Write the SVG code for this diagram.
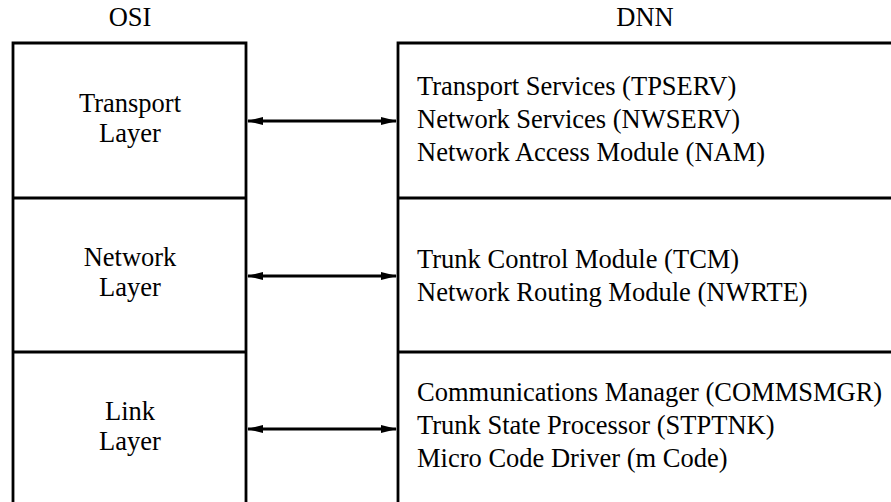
<svg xmlns="http://www.w3.org/2000/svg" width="891" height="502" viewBox="0 0 891 502">
  <style>
    .t { font-family: "Liberation Serif", "Times New Roman", serif; font-size: 26.5px; fill: #000; }
    .c { text-anchor: middle; }
    .box { fill: none; stroke: #000; stroke-width: 2.8; }
    .conn { stroke: #000; stroke-width: 2.8; fill: none; marker-start: url(#ah); marker-end: url(#ah); }
  </style>
  <defs>
    <!-- solid triangular head, reused at both ends of each two-way link -->
    <marker id="ah" viewBox="0 0 16 10" refX="15" refY="5" markerWidth="16" markerHeight="10" markerUnits="userSpaceOnUse" orient="auto-start-reverse">
      <path d="M0,1 L16,5 L0,9 Z" fill="#000"/>
    </marker>
  </defs>
  <rect width="891" height="502" fill="#fff"/>

  <text class="t c" x="130" y="26">OSI</text>
  <text class="t c" x="645" y="26">DNN</text>

  <!-- OSI column, split into three layers -->
  <g id="osi">
    <path class="box" d="M13,510 V43 H246 V510"/>
    <path class="box" d="M13,198 H246 M13,352 H246"/>
  </g>
  <!-- DNN column, running off the right edge -->
  <g id="dnn">
    <path class="box" d="M398,510 V43 H900"/>
    <path class="box" d="M398,198 H900 M398,352 H900"/>
  </g>

  <g id="osi-transport">
    <text class="t c" x="130" y="112">Transport</text>
    <text class="t c" x="130" y="142">Layer</text>
  </g>
  <g id="osi-network">
    <text class="t c" x="130" y="266">Network</text>
    <text class="t c" x="130" y="296">Layer</text>
  </g>
  <g id="osi-link">
    <text class="t c" x="130" y="420">Link</text>
    <text class="t c" x="130" y="450">Layer</text>
  </g>

  <g id="dnn-transport">
    <text class="t" x="417" y="95">Transport Services (TPSERV)</text>
    <text class="t" x="417" y="128">Network Services (NWSERV)</text>
    <text class="t" x="417" y="161">Network Access Module (NAM)</text>
  </g>
  <g id="dnn-network">
    <text class="t" x="417" y="268">Trunk Control Module (TCM)</text>
    <text class="t" x="417" y="301">Network Routing Module (NWRTE)</text>
  </g>
  <g id="dnn-link">
    <text class="t" x="417" y="401">Communications Manager (COMMSMGR)</text>
    <text class="t" x="417" y="434">Trunk State Processor (STPTNK)</text>
    <text class="t" x="417" y="467">Micro Code Driver (m Code)</text>
  </g>

  <g id="connectors">
    <line class="conn" x1="248" y1="121" x2="396" y2="121"/>
    <line class="conn" x1="248" y1="276" x2="396" y2="276"/>
    <line class="conn" x1="248" y1="429" x2="396" y2="429"/>
  </g>
</svg>
